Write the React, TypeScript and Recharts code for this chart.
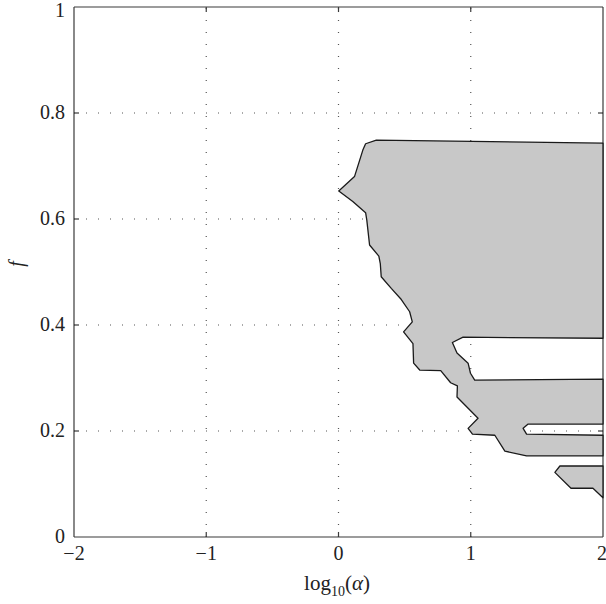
import { ScatterChart, Scatter, XAxis, YAxis, ReferenceLine } from 'recharts'

// boundary of the large shaded region (traced clockwise, starting at the right edge)
const mainX = [
  2, 2, 0.942, 0.861, 0.896, 0.98, 0.998, 1.03, 2, 2, 1.434, 1.396, 1.422, 2, 2,
  1.422, 1.258, 1.182, 1.013, 0.98, 1.055, 0.896, 0.899, 0.848, 0.773, 0.614, 0.568,
  0.563, 0.492, 0.558, 0.538, 0.475, 0.399, 0.323, 0.316, 0.305, 0.235, 0.214, 0.205,
  0.108, 0.002, 0.121, 0.184, 0.205, 0.286,
]
const mainY = [
  0.743, 0.375, 0.377, 0.367, 0.347, 0.328, 0.309, 0.296, 0.298, 0.213, 0.213, 0.205,
  0.194, 0.192, 0.153, 0.153, 0.162, 0.192, 0.194, 0.205, 0.224, 0.264, 0.285, 0.291,
  0.314, 0.315, 0.328, 0.365, 0.387, 0.406, 0.425, 0.448, 0.469, 0.491, 0.516, 0.53,
  0.551, 0.598, 0.612, 0.633, 0.653, 0.68, 0.73, 0.742, 0.749,
]

// small shaded island near the bottom right
const islandX = [2, 2, 1.924, 1.758, 1.636, 1.674]
const islandY = [0.134, 0.074, 0.092, 0.092, 0.122, 0.134]

const xTicks = [-2, -1, 0, 1, 2]
const yTicks = [0, 0.2, 0.4, 0.6, 0.8, 1]

const toPoints = (xs: number[], ys: number[]) => xs.map((x, i) => ({ x, y: ys[i] }))

const mainData = toPoints(mainX, mainY)
const islandData = toPoints(islandX, islandY)

const FONT = 'Liberation Serif'
const AXIS = '#3a3a3a'
const GRID = '#555'

const fmtX = (v: number) => (v < 0 ? '\u2212' + Math.abs(v) : String(v))

const polygonLine = (props: any) => {
  const pts = (props.points || []).map((p: any) => `${p.x},${p.y}`).join(' ')
  return <polygon points={pts} fill="#c8c8c8" stroke="#1a1a1a" strokeWidth={1.3} strokeLinejoin="round" />
}

const noDot = () => <g />

const XTick = (p: any) => (
  <text x={p.x} y={p.y + 14} textAnchor="middle" style={{ fontFamily: FONT, fontSize: 20 }} fill="#222">
    {fmtX(p.payload.value)}
  </text>
)

// keep the top label ("1") inside the picture
const YTick = (p: any) => (
  <text x={p.x} y={Math.max(p.y + 6, 17)} textAnchor="end" style={{ fontFamily: FONT, fontSize: 20 }} fill="#222">
    {String(p.payload.value)}
  </text>
)

export default function App() {
  const tickX = 0.038 // inward tick length in x units (~5px)
  const tickY = 0.0095

  return (
    <div style={{ position: 'absolute', left: 0, top: 0, background: '#fff', fontFamily: FONT }}>
      <ScatterChart width={606} height={604} margin={{ top: 7, right: 3, left: 0, bottom: 0 }}>
        <XAxis
          type="number"
          dataKey="x"
          domain={[-2, 2]}
          ticks={xTicks}
          height={67}
          tickSize={0}
          tickMargin={9}
          axisLine={{ stroke: AXIS, strokeWidth: 1.2 }}
          tick={XTick}
          label={{
            content: () => (
              <text x={337} y={590} textAnchor="middle" style={{ fontFamily: FONT }} fontSize={21} fill="#222">
                log<tspan fontSize={14} dy={6}>10</tspan>
                <tspan dy={-6}>(</tspan>
                <tspan fontStyle="italic">α</tspan>)
              </text>
            ),
          }}
        />
        <YAxis
          type="number"
          dataKey="y"
          domain={[0, 1]}
          ticks={yTicks}
          width={74}
          tickSize={0}
          tickMargin={9}
          axisLine={{ stroke: AXIS, strokeWidth: 1.2 }}
          tick={YTick}
          label={{
            content: () => (
              <text
                x={0}
                y={0}
                transform="translate(23,264) rotate(-90)"
                textAnchor="middle"
                style={{ fontFamily: FONT }}
                fontStyle="italic"
                fontSize={20}
                fill="#222"
              >
                f
              </text>
            ),
          }}
        />

        <Scatter data={mainData} line={polygonLine} lineType="joint" shape={noDot} isAnimationActive={false} />
        <Scatter data={islandData} line={polygonLine} lineType="joint" shape={noDot} isAnimationActive={false} />

        {xTicks.slice(1, -1).map((v) => (
          <ReferenceLine key={'gx' + v} x={v} stroke={GRID} strokeWidth={1.2} strokeDasharray="1 11" />
        ))}
        {yTicks.slice(1, -1).map((v) => (
          <ReferenceLine key={'gy' + v} y={v} stroke={GRID} strokeWidth={1.2} strokeDasharray="1 11" />
        ))}

        {/* inward tick marks on all four sides */}
        {xTicks.slice(1, -1).map((v) => (
          <ReferenceLine key={'tb' + v} segment={[{ x: v, y: 0 }, { x: v, y: tickY }]} stroke={AXIS} strokeWidth={1.2} />
        ))}
        {xTicks.slice(1, -1).map((v) => (
          <ReferenceLine key={'tt' + v} segment={[{ x: v, y: 1 }, { x: v, y: 1 - tickY }]} stroke={AXIS} strokeWidth={1.2} />
        ))}
        {yTicks.slice(1, -1).map((v) => (
          <ReferenceLine key={'tl' + v} segment={[{ x: -2, y: v }, { x: -2 + tickX, y: v }]} stroke={AXIS} strokeWidth={1.2} />
        ))}
        {yTicks.slice(1, -1).map((v) => (
          <ReferenceLine key={'tr' + v} segment={[{ x: 2, y: v }, { x: 2 - tickX, y: v }]} stroke={AXIS} strokeWidth={1.2} />
        ))}

        {/* box border */}
        <ReferenceLine y={1} stroke={AXIS} strokeWidth={1.2} />
        <ReferenceLine x={2} stroke={AXIS} strokeWidth={1.2} />
      </ScatterChart>
    </div>
  )
}
